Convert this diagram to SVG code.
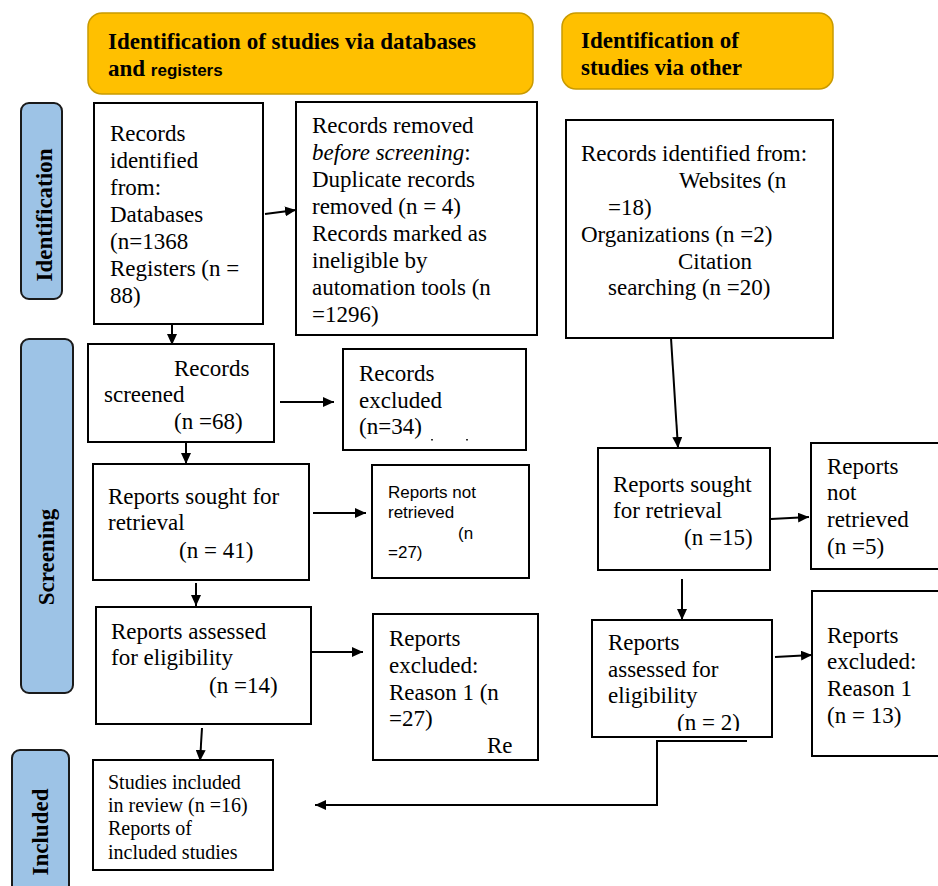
<svg xmlns="http://www.w3.org/2000/svg" width="938" height="886" viewBox="0 0 938 886">
<style>
.box{fill:#fff;stroke:#000;stroke-width:2}
.hdr{fill:#FFC000;stroke:#C99A00;stroke-width:1.5}
.bar{fill:#9DC3E6;stroke:#1a1a1a;stroke-width:2}
.t{font-family:"Liberation Serif","Times New Roman",serif;font-size:23px;fill:#000}
.ts{font-family:"Liberation Serif","Times New Roman",serif;font-size:20px;fill:#000}
.tsans{font-family:"Liberation Sans",Arial,sans-serif;font-size:17px;fill:#000}
.hb{font-family:"Liberation Serif","Times New Roman",serif;font-size:23px;font-weight:bold;fill:#000}
.hbs{font-family:"Liberation Sans",Arial,sans-serif;font-size:17px;font-weight:bold;fill:#000}
.lbl{font-family:"Liberation Serif","Times New Roman",serif;font-size:23px;font-weight:bold;fill:#000;text-anchor:middle}
.c{fill:none;stroke:#000;stroke-width:2}
</style>
<defs>
<marker id="ah" markerUnits="userSpaceOnUse" markerWidth="12" markerHeight="10" refX="11" refY="5" orient="auto">
<path d="M0,0 L11,5 L0,10 Z" fill="#000"/>
</marker>
<clipPath id="clipN2"><rect x="592" y="620" width="180" height="111"/></clipPath>
</defs>
<rect width="938" height="886" fill="#fff"/>

<g id="header-db">
<rect class="hdr" x="88" y="13" width="445" height="81" rx="14"/>
<text class="hb" x="108" y="49">Identification of studies via databases</text>
<text x="108" y="76"><tspan class="hb">and </tspan><tspan class="hbs">registers</tspan></text>
</g>
<g id="header-other">
<rect class="hdr" x="562" y="13" width="271" height="76" rx="14"/>
<text class="hb" x="581" y="48">Identification of</text>
<text class="hb" x="581" y="75">studies via other</text>
</g>

<g id="bar-identification">
<rect class="bar" x="21" y="103" width="41" height="196" rx="8"/>
<text class="lbl" transform="translate(52,215) rotate(-90)">Identification</text>
</g>
<g id="bar-screening">
<rect class="bar" x="21" y="339" width="52" height="354" rx="8"/>
<text class="lbl" transform="translate(54,557) rotate(-90)">Screening</text>
</g>
<g id="bar-included">
<rect class="bar" x="12" y="750" width="57" height="150" rx="8"/>
<text class="lbl" transform="translate(48,832) rotate(-90)">Included</text>
</g>

<g id="records-identified">
<rect class="box" x="94" y="103" width="169" height="221"/>
<text class="t" x="110" y="141">Records</text>
<text class="t" x="110" y="168">identified</text>
<text class="t" x="110" y="195">from:</text>
<text class="t" x="110" y="222">Databases</text>
<text class="t" x="110" y="249">(n=1368</text>
<text class="t" x="110" y="276">Registers (n =</text>
<text class="t" x="110" y="303">88)</text>
</g>
<g id="records-removed">
<rect class="box" x="296" y="102" width="241" height="233"/>
<text class="t" x="312" y="133">Records removed</text>
<text class="t" x="312" y="160"><tspan font-style="italic">before screening</tspan>:</text>
<text class="t" x="312" y="187">Duplicate records</text>
<text class="t" x="312" y="214">removed (n = 4)</text>
<text class="t" x="312" y="241">Records marked as</text>
<text class="t" x="312" y="268">ineligible by</text>
<text class="t" x="312" y="295">automation tools (n</text>
<text class="t" x="312" y="322">=1296)</text>
</g>
<g id="records-other">
<rect class="box" x="566" y="120" width="267" height="218"/>
<text class="t" x="581" y="161">Records identified from:</text>
<text class="t" x="679" y="188">Websites (n</text>
<text class="t" x="608" y="215">=18)</text>
<text class="t" x="581" y="242">Organizations (n =2)</text>
<text class="t" x="678" y="269">Citation</text>
<text class="t" x="608" y="295">searching (n =20)</text>
</g>

<g id="records-screened">
<rect class="box" x="88" y="344" width="186" height="98"/>
<text class="t" x="174" y="376">Records</text>
<text class="t" x="104" y="402">screened</text>
<text class="t" x="174" y="429">(n =68)</text>
</g>
<g id="records-excluded">
<rect class="box" x="343" y="349" width="183" height="101"/>
<text class="t" x="359" y="381">Records</text>
<text class="t" x="359" y="408">excluded</text>
<text class="t" x="359" y="434">(n=34)</text>
<rect x="431" y="439" width="2" height="1.5" fill="#333"/>
<rect x="466" y="439" width="2" height="1.5" fill="#333"/>
</g>
<g id="reports-sought">
<rect class="box" x="93" y="464" width="216" height="116"/>
<text class="t" x="108" y="504">Reports sought for</text>
<text class="t" x="108" y="530">retrieval</text>
<text class="t" x="179" y="558">(n = 41)</text>
</g>
<g id="reports-not-retrieved">
<rect class="box" x="372" y="465" width="157" height="113"/>
<text class="tsans" x="388" y="498">Reports not</text>
<text class="tsans" x="388" y="518">retrieved</text>
<text class="tsans" x="458" y="539">(n</text>
<text class="tsans" x="388" y="558">=27)</text>
</g>
<g id="reports-assessed">
<rect class="box" x="96" y="607" width="215" height="117"/>
<text class="t" x="111" y="639">Reports assessed</text>
<text class="t" x="111" y="665">for eligibility</text>
<text class="t" x="209" y="693">(n =14)</text>
</g>
<g id="reports-excluded">
<rect class="box" x="373" y="614" width="165" height="146"/>
<text class="t" x="389" y="646">Reports</text>
<text class="t" x="389" y="673">excluded:</text>
<text class="t" x="389" y="700">Reason 1 (n</text>
<text class="t" x="389" y="726">=27)</text>
<text class="t" x="487" y="753">Re</text>
</g>
<g id="studies-included">
<rect class="box" x="93" y="760" width="180" height="110"/>
<text class="ts" x="108" y="789">Studies included</text>
<text class="ts" x="108" y="812">in review (n =16)</text>
<text class="ts" x="108" y="835">Reports of</text>
<text class="ts" x="108" y="859">included studies</text>
</g>

<g id="reports-sought-other">
<rect class="box" x="598" y="448" width="172" height="122"/>
<text class="t" x="613" y="492">Reports sought</text>
<text class="t" x="613" y="518">for retrieval</text>
<text class="t" x="684" y="545">(n =15)</text>
</g>
<g id="reports-not-retrieved-other">
<rect class="box" x="811" y="443" width="140" height="126"/>
<text class="t" x="827" y="474">Reports</text>
<text class="t" x="827" y="500">not</text>
<text class="t" x="827" y="527">retrieved</text>
<text class="t" x="827" y="554">(n =5)</text>
</g>
<g id="reports-assessed-other">
<rect class="box" x="592" y="620" width="180" height="117"/>
<text class="t" x="608" y="650">Reports</text>
<text class="t" x="608" y="677">assessed for</text>
<text class="t" x="608" y="703">eligibility</text>
<text class="t" x="677" y="730" clip-path="url(#clipN2)">(n = 2)</text>
</g>
<g id="reports-excluded-other">
<rect class="box" x="812" y="591" width="140" height="165"/>
<text class="t" x="827" y="643">Reports</text>
<text class="t" x="827" y="669">excluded:</text>
<text class="t" x="827" y="696">Reason 1</text>
<text class="t" x="827" y="723">(n = 13)</text>
</g>

<g id="connectors">
<path class="c" d="M265 214 L296 210" marker-end="url(#ah)"/>
<path class="c" d="M172 324 L172 345" marker-end="url(#ah)"/>
<path class="c" d="M280 402 L334 402" marker-end="url(#ah)"/>
<path class="c" d="M186 442 L186 464" marker-end="url(#ah)"/>
<path class="c" d="M313 513 L366 513" marker-end="url(#ah)"/>
<path class="c" d="M196 583 L196 606" marker-end="url(#ah)"/>
<path class="c" d="M311 652 L363 652" marker-end="url(#ah)"/>
<path class="c" d="M202 728 L200 761" marker-end="url(#ah)"/>
<path class="c" d="M671 338 L678 448" marker-end="url(#ah)"/>
<path class="c" d="M771 519 L809 517" marker-end="url(#ah)"/>
<path class="c" d="M682 579 L682 620" marker-end="url(#ah)"/>
<path class="c" d="M775 657 L812 655" marker-end="url(#ah)"/>
<path class="c" d="M747 741 L657 741 L657 805 L315 805" marker-end="url(#ah)"/>
</g>
</svg>
